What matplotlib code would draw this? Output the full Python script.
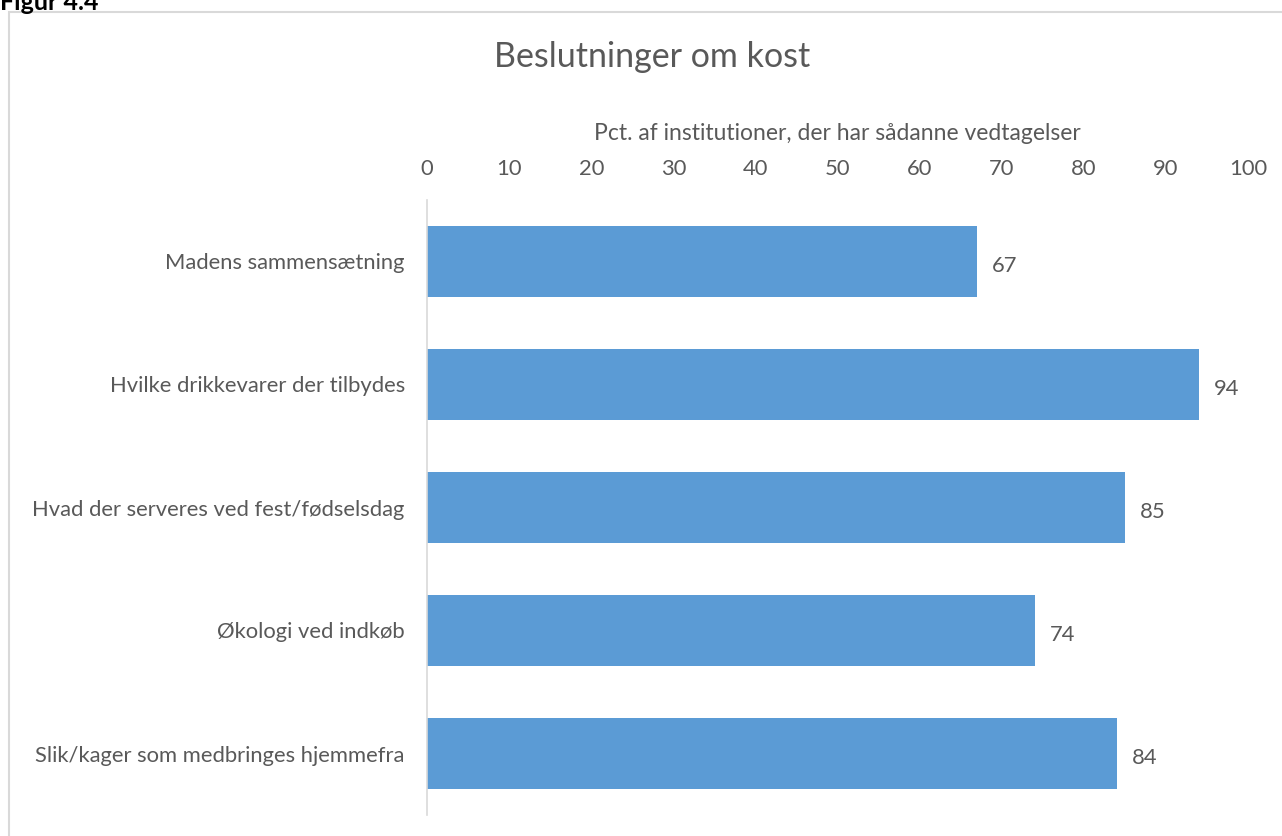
import matplotlib.pyplot as plt

# Data
categories = ["Madens sammensætning",
              "Hvilke drikkevarer der tilbydes",
              "Hvad der serveres ved fest/fødselsdag",
              "Økologi ved indkøb",
              "Slik/kager som medbringes hjemmefra"]
values = [67, 94, 85, 74, 84]
xticks = [0, 10, 20, 30, 40, 50, 60, 70, 80, 90, 100]

plt.rcParams['font.family'] = ['Lato', 'DejaVu Sans']
grey = '#595959'

fig = plt.figure(figsize=(12.82, 8.36), dpi=100)

# Outer frame of the chart area
frame = plt.Rectangle((9 / 1282, -0.05), 1.1, 1 - 12 / 836 + 0.05,
                      transform=fig.transFigure, fill=False,
                      edgecolor='#D9D9D9', linewidth=1.5)
fig.add_artist(frame)

# Cut-off figure caption at very top
fig.text(0.0, 1 - 2 / 836, "Figur 4.4", fontsize=18, fontweight='bold',
         ha='left', va='center', color='black')

ax = fig.add_axes([427 / 1282, 1 - 815 / 836, (1248 - 427) / 1282, (815 - 200) / 836])
ypos = range(len(categories))
ax.barh(ypos, values, height=0.57, color='#5B9BD5')
ax.set_ylim(len(categories) - 0.5, -0.5)
ax.set_xlim(0, 100)
ax.set_yticks(list(ypos))
ax.set_yticklabels(categories, fontsize=15.8, color=grey)
ax.set_xticks(xticks)
ax.set_xticklabels([str(t) for t in xticks], fontsize=15.8, color=grey)
ax.xaxis.tick_top()
ax.xaxis.set_label_position('top')
ax.set_xlabel("Pct. af institutioner, der har sådanne vedtagelser",
              fontsize=16.5, color=grey, labelpad=14)
ax.tick_params(length=0, pad=15)
ax.tick_params(axis='y', pad=16)
for s in ['top', 'right', 'bottom']:
    ax.spines[s].set_visible(False)
ax.spines['left'].set_color('#D9D9D9')
ax.spines['left'].set_linewidth(1.2)

for i, v in enumerate(values):
    ax.text(v + 3.4, i + 0.04, str(v), va='center', ha='center', fontsize=15.8, color=grey)

fig.text(652 / 1282, 1 - 57 / 836, "Beslutninger om kost", fontsize=24.5,
         ha='center', va='center', color=grey)

fig.savefig('out.png', dpi=100)
